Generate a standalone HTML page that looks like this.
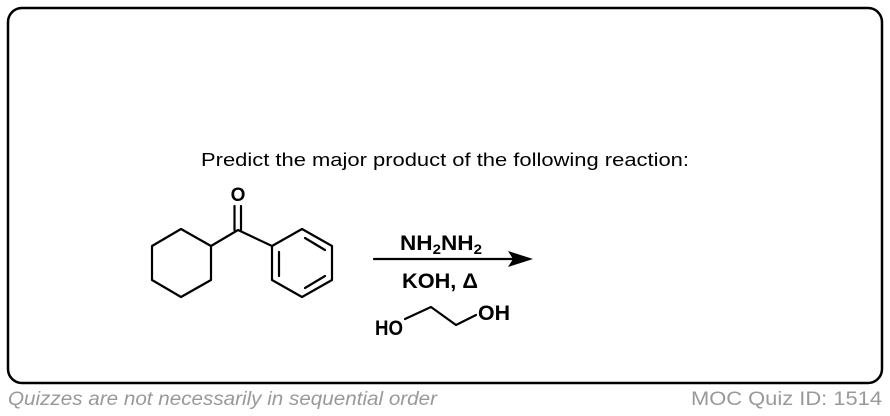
<!DOCTYPE html>
<html><head><meta charset="utf-8"><style>
html,body{margin:0;padding:0;background:#fff;}
svg{display:block;font-family:"Liberation Sans",Arial,sans-serif;}
</style></head><body>
<svg width="890" height="416" viewBox="0 0 890 416" xmlns="http://www.w3.org/2000/svg">
<rect x="8" y="8" width="874" height="375" rx="14" ry="14" fill="#fff" stroke="#000" stroke-width="2.5"/>
<text x="445" y="166" font-size="18" text-anchor="middle" textLength="488" lengthAdjust="spacingAndGlyphs">Predict the major product of the following reaction:</text>
<g stroke="#000" stroke-width="2.2" fill="none" stroke-linejoin="round" stroke-linecap="round">
<polygon points="181,229 211,246 211,280 181,297 152,280 152,246"/>
<polyline points="211,246 238,230 272,246"/>
<line x1="234.5" y1="230" x2="234.5" y2="206"/>
<line x1="241" y1="230" x2="241" y2="206"/>
<polygon points="272,246 302,229 332,246 332,280 302,297 272,280"/>
<line x1="305" y1="238" x2="325" y2="250"/>
<line x1="325" y1="276" x2="305" y2="288"/>
<line x1="279" y1="252" x2="279" y2="276"/>
<line x1="374" y1="259" x2="515" y2="259"/>
<polyline points="405,319 431,307 456,325 476,315"/>
</g>
<polygon points="533,259 508,251 513,259 508,267" fill="#000"/>
<text x="238" y="201" font-size="19" font-weight="bold" text-anchor="middle">O</text>
<text x="400" y="250" font-size="21" font-weight="bold" textLength="82" lengthAdjust="spacingAndGlyphs">NH<tspan font-size="14" dy="4">2</tspan><tspan dy="-4">NH</tspan><tspan font-size="14" dy="4">2</tspan></text>
<text x="402" y="288" font-size="21" font-weight="bold" textLength="76" lengthAdjust="spacingAndGlyphs">KOH, Δ</text>
<text x="375" y="335" font-size="21" font-weight="bold" textLength="28" lengthAdjust="spacingAndGlyphs">HO</text>
<text x="478" y="320" font-size="21" font-weight="bold" textLength="32" lengthAdjust="spacingAndGlyphs">OH</text>
<text x="8" y="405" font-size="19" font-style="italic" fill="#999" textLength="429" lengthAdjust="spacingAndGlyphs">Quizzes are not necessarily in sequential order</text>
<text x="882" y="405" font-size="19" fill="#999" text-anchor="end" textLength="191" lengthAdjust="spacingAndGlyphs">MOC Quiz ID: 1514</text>
</svg>
</body></html>
